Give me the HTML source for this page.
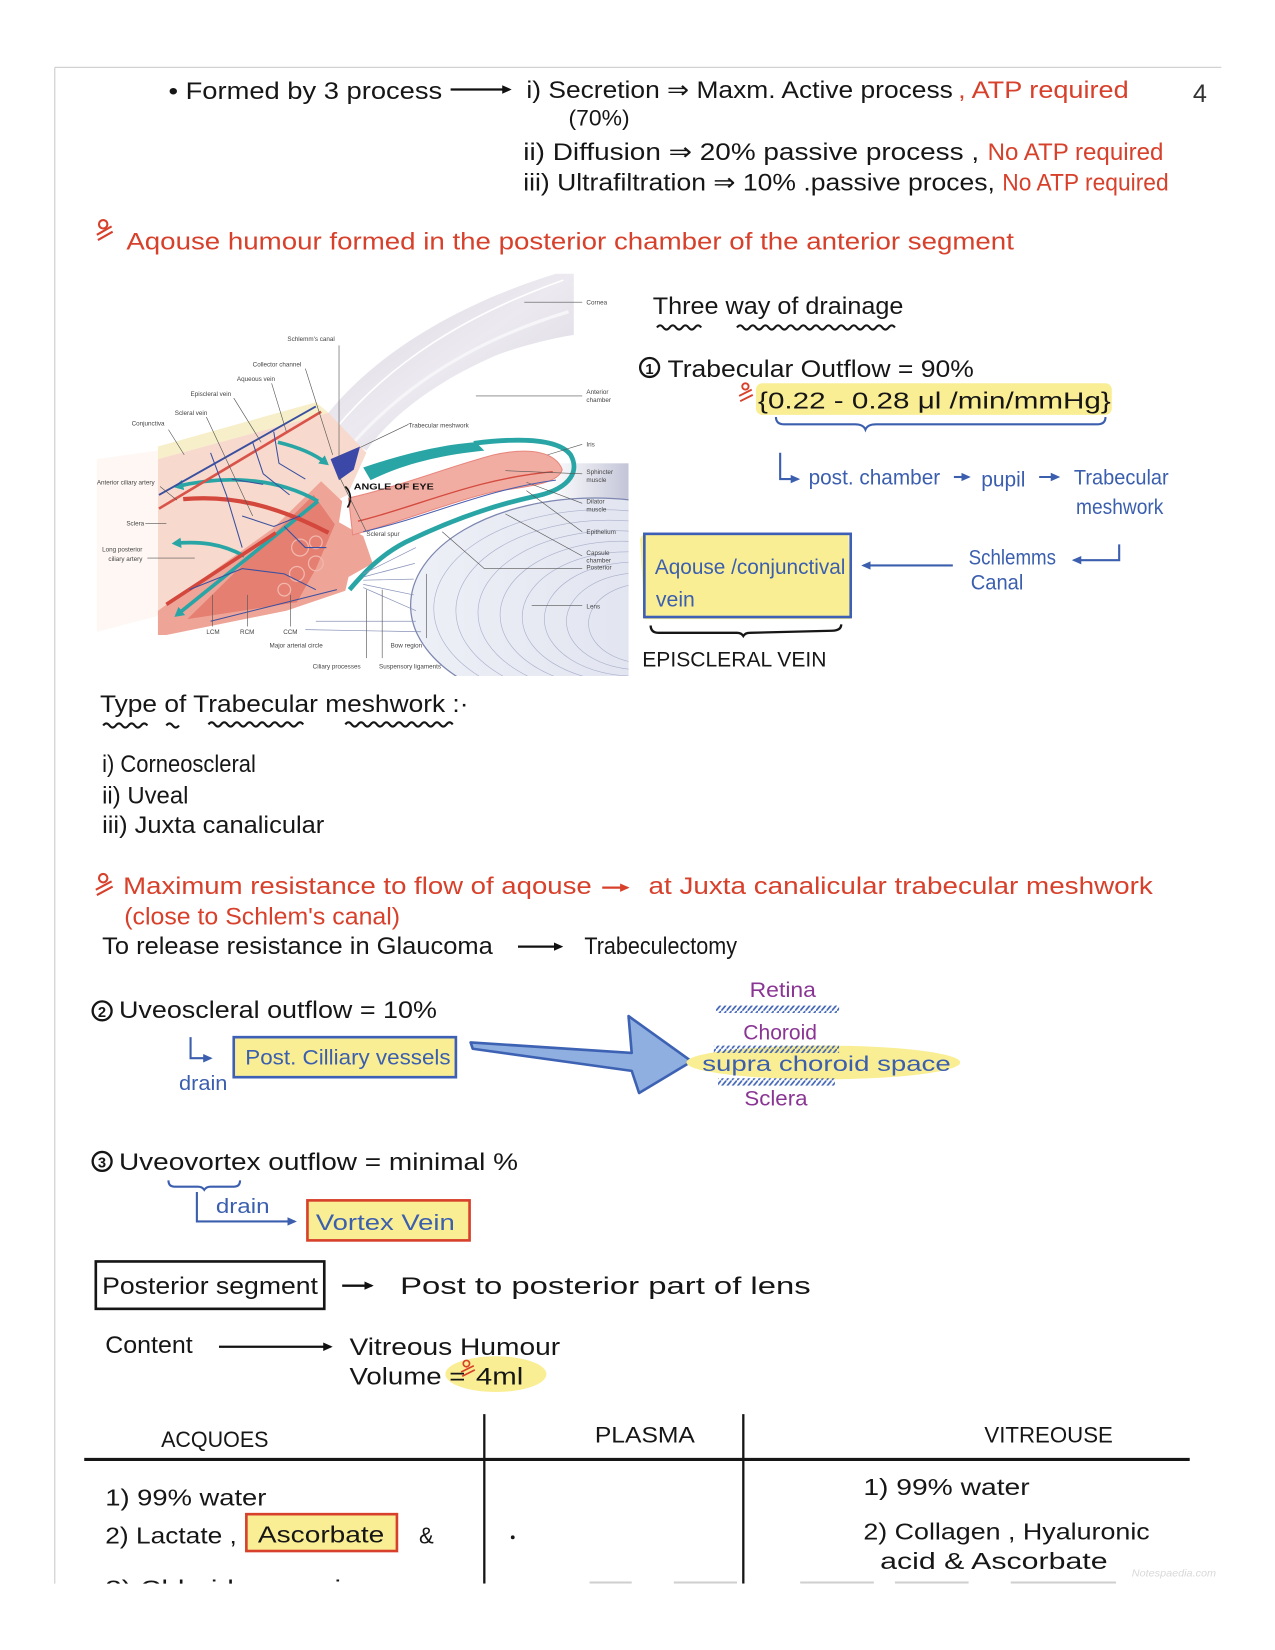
<!DOCTYPE html>
<html><head><meta charset="utf-8">
<style>
html,body{margin:0;padding:0;background:#fff;}
svg{display:block;}
text{font-family:"Liberation Sans","DejaVu Sans",sans-serif;}
</style></head><body>
<svg width="1275" height="1650" viewBox="0 0 1211 1567" preserveAspectRatio="none" xmlns="http://www.w3.org/2000/svg">
<defs>
 <marker id="ab" markerWidth="10" markerHeight="10" refX="7" refY="5" orient="auto" markerUnits="userSpaceOnUse"><path d="M0,1 L9,5 L0,9 Z" fill="#111"/></marker>
 <marker id="abl" markerWidth="10" markerHeight="10" refX="7" refY="5" orient="auto" markerUnits="userSpaceOnUse"><path d="M0,1 L9,5 L0,9 Z" fill="#3b5fae"/></marker>
 <marker id="ar" markerWidth="10" markerHeight="10" refX="7" refY="5" orient="auto" markerUnits="userSpaceOnUse"><path d="M0,1 L9,5 L0,9 Z" fill="#d7402b"/></marker>
 <marker id="at" markerWidth="10" markerHeight="10" refX="6" refY="5" orient="auto" markerUnits="userSpaceOnUse"><path d="M0,0 L9,5 L0,10 Z" fill="#2aa5a5"/></marker>
 <pattern id="hatch" width="5" height="6" patternUnits="userSpaceOnUse"><line x1="0" y1="6" x2="5" y2="0" stroke="#3f63b5" stroke-width="1.6"/></pattern>
 <linearGradient id="lensG" x1="0" y1="0" x2="1" y2="0"><stop offset="0" stop-color="#eef0f7"/><stop offset="0.6" stop-color="#e2e5f0"/><stop offset="1" stop-color="#c3c7dc"/></linearGradient>
 <linearGradient id="cornG" x1="0" y1="0" x2="1" y2="1"><stop offset="0" stop-color="#d9d5df"/><stop offset="0.5" stop-color="#ece9f0"/><stop offset="1" stop-color="#d6d3de"/></linearGradient>
 <linearGradient id="fadeR" x1="0" y1="0" x2="1" y2="0"><stop offset="0" stop-color="#c8cadb" stop-opacity="0"/><stop offset="1" stop-color="#c3c5d8" stop-opacity="1"/></linearGradient>
 <clipPath id="diagClip"><rect x="88" y="258" width="509" height="384"/></clipPath>
 <clipPath id="pageClip"><rect x="0" y="0" width="1211" height="1504"/></clipPath>
</defs>

<!-- page border -->
<line x1="52" y1="64" x2="1160" y2="64" stroke="#d2d2d2" stroke-width="1.2"/>
<line x1="52" y1="64" x2="52" y2="1504" stroke="#d2d2d2" stroke-width="1.2"/>

<!-- ===== Top lines ===== -->
<g font-size="23" fill="#161616">
 <text x="160" y="94" textLength="260" lengthAdjust="spacingAndGlyphs">• Formed by 3 process</text>
 <text x="500" y="93" textLength="405" lengthAdjust="spacingAndGlyphs">i) Secretion ⇒ Maxm. Active process</text>
 <text x="540" y="119" textLength="58" lengthAdjust="spacingAndGlyphs" font-size="21">(70%)</text>
 <text x="497" y="152" textLength="433" lengthAdjust="spacingAndGlyphs">ii) Diffusion ⇒ 20% passive process ,</text>
 <text x="497" y="181" textLength="448" lengthAdjust="spacingAndGlyphs">iii) Ultrafiltration ⇒ 10% .passive proces,</text>
</g>
<line x1="428" y1="85" x2="484" y2="85" stroke="#111" stroke-width="2.2" marker-end="url(#ab)"/>
<g font-size="23" fill="#d7402b">
 <text x="910" y="93" textLength="162" lengthAdjust="spacingAndGlyphs">, ATP required</text>
 <text x="938" y="152" textLength="167" lengthAdjust="spacingAndGlyphs">No ATP required</text>
 <text x="952" y="181" textLength="158" lengthAdjust="spacingAndGlyphs">No ATP required</text>
</g>
<text x="1133" y="97" font-size="24" fill="#333">4</text>

<!-- red heading -->
<g stroke="#d7402b" stroke-width="2" fill="none"><circle cx="98" cy="213" r="4"/><path d="M92,223 L106,215 M93,228 L107,220"/></g>
<text x="120" y="237" font-size="23" fill="#d7402b" textLength="843" lengthAdjust="spacingAndGlyphs">Aqouse humour formed in the posterior chamber of the anterior segment</text>

<!-- ===== Diagram ===== -->
<g clip-path="url(#diagClip)">
 <rect x="88" y="258" width="509" height="384" fill="#fff"/>
 <!-- lens -->
 <rect x="520" y="440" width="77" height="202" fill="url(#fadeR)"/>
 <ellipse cx="565" cy="575" rx="175" ry="102" fill="url(#lensG)" stroke="#7d87b0" stroke-width="1.2"/>
 <g fill="none" stroke="#aab0cc" stroke-width="0.6">
  <ellipse cx="572" cy="578" rx="160" ry="94"/><ellipse cx="578" cy="580" rx="145" ry="86"/>
  <ellipse cx="584" cy="582" rx="130" ry="78"/><ellipse cx="590" cy="584" rx="115" ry="70"/>
  <ellipse cx="596" cy="586" rx="100" ry="62"/><ellipse cx="602" cy="588" rx="85" ry="54"/>
  <ellipse cx="608" cy="590" rx="70" ry="46"/><ellipse cx="614" cy="592" rx="55" ry="38"/>
 </g>
 <!-- cornea -->
 <path d="M305,401 C350,340 430,290 528,260 L545,260 L545,318 C520,322 490,330 470,338 C420,360 375,390 348,428 Z" fill="url(#cornG)"/>
 <path d="M318,408 C370,345 440,300 535,266" fill="none" stroke="#fff" stroke-width="1.5"/>
 <path d="M336,420 C390,360 460,320 540,296" fill="none" stroke="#f6f5f8" stroke-width="3"/>
 <!-- conjunctiva strip -->
 <path d="M150,424 L300,382 L312,392 L150,436 Z" fill="#f6efc9"/>
 <!-- sclera peach -->
 <path d="M150,436 L312,392 L348,430 L330,470 L262,505 L150,580 Z" fill="#f7dacd"/>
 <path d="M92,436 L150,428 L150,585 L92,600 Z" fill="#fdf4f0" opacity="0.7"/>
 <!-- ciliary body -->
 <path d="M150,580 L259,502 L305,457 L325,476 L322,496 L345,509 L354,535 L331,548 L328,561 L272,580 L158,603 L150,603 Z" fill="#eea598"/>
 <path d="M178,588 L298,470 L318,498 L300,540 L282,572 Z" fill="#e2786a" opacity="0.85"/>
 <g fill="none" stroke="#f3b7ad" stroke-width="1.2"><circle cx="285" cy="520" r="8"/><circle cx="300" cy="535" r="7"/><circle cx="282" cy="545" r="7"/><circle cx="300" cy="515" r="6"/><circle cx="270" cy="560" r="6"/></g>
 <!-- iris -->
 <path d="M331,473 C380,462 430,442 469,432 C505,424 528,430 534,446 C530,460 500,462 469,467 C430,476 380,496 335,508 Z" fill="#f2ada3" stroke="#e8877d" stroke-width="1"/>
 <path d="M340,495 C400,480 450,455 525,448" fill="none" stroke="#d44b3f" stroke-width="1.3"/>
 <path d="M345,505 C410,490 460,465 528,456" fill="none" stroke="#4a5fb0" stroke-width="1"/>
 <!-- teal loop -->
 <path d="M345,444 C380,432 420,422 452,420 L460,428 C420,432 385,440 352,456 Z" fill="#2aa5a5"/>
 <path d="M450,421 C490,416 530,416 542,432 C552,450 538,466 505,472 C460,482 420,498 385,515 C360,528 345,545 332,560" fill="none" stroke="#2aa5a5" stroke-width="4.5"/>
 <!-- teal arrows -->
 <path d="M302,476 L168,584" fill="none" stroke="#2aa5a5" stroke-width="3.5" marker-end="url(#at)"/>
 <path d="M302,476 C260,452 210,452 168,462" fill="none" stroke="#2aa5a5" stroke-width="3.5" marker-end="url(#at)"/>
 <path d="M232,528 C210,516 190,514 166,516" fill="none" stroke="#2aa5a5" stroke-width="3.5" marker-end="url(#at)"/>
 <path d="M264,420 C285,425 300,432 310,440" fill="none" stroke="#2aa5a5" stroke-width="3.5" marker-end="url(#at)"/>
 <!-- trabecular meshwork -->
 <path d="M314,436 L342,424 L336,446 L322,456 Z" fill="#3b48a8"/>
 <!-- red vessels -->
 <path d="M151,483 L305,391" fill="none" stroke="#d9534a" stroke-width="2.5"/>
 <path d="M151,470 L300,386" fill="none" stroke="#3a4fa0" stroke-width="1.8"/>
 <path d="M174,474 C220,470 262,480 312,506" fill="none" stroke="#d4473d" stroke-width="4"/>
 <path d="M158,574 L262,506" fill="none" stroke="#d4473d" stroke-width="3.5"/>
 <g fill="none" stroke="#3a4fa0" stroke-width="1">
  <path d="M200,430 L215,470 L230,520 M240,420 L250,450 L275,470 M260,410 L265,440 L290,455 M220,455 L250,460 M230,490 L260,500 L285,490 M180,560 L230,540 L270,545 L300,560 M200,590 L260,575 L320,560 M270,500 L290,520 L310,520"/>
 </g>
 <!-- zonules -->
 <g fill="none" stroke="#8892b8" stroke-width="0.7">
  <path d="M345,545 L395,520 M345,548 L394,535 M345,551 L393,550 M345,555 L393,565 M345,558 L395,580 M300,590 L395,590 M290,598 L400,600"/>
 </g>
 <!-- angle of eye -->
 <text x="336" y="465" font-size="7.5" font-weight="bold" fill="#111" textLength="76" lengthAdjust="spacingAndGlyphs">ANGLE OF EYE</text>
 <path d="M328,462 C334,468 334,476 330,482" fill="none" stroke="#111" stroke-width="1.6"/>
 <!-- leaders -->
 <g stroke="#555" stroke-width="0.6" fill="none">
  <path d="M498,287 L553,287 M452,376 L553,376 M520,432 L553,422 M480,447 L553,450 M500,458 L553,478 M500,466 L553,505 M480,488 L553,528 M420,505 L460,540 L553,540 M505,575 L553,575"/>
  <path d="M322,328 L322,437 M290,350 L316,432 M258,364 L272,410 M222,378 L248,420 M196,396 L240,490 M160,408 L175,432 M152,462 L168,475 M138,497 L158,497 M140,530 L185,530 M202,595 L202,565 M235,595 L235,565 M276,595 L276,565 M342,425 L388,403 M322,452 L348,505 M405,545 L405,606 M348,560 L348,625 M363,560 L363,625"/>
 </g>
 <g font-size="6" fill="#444">
  <text x="557" y="289">Cornea</text>
  <text x="557" y="374">Anterior</text><text x="557" y="382">chamber</text>
  <text x="557" y="424">Iris</text>
  <text x="557" y="450">Sphincter</text><text x="557" y="458">muscle</text>
  <text x="557" y="478">Dilator</text><text x="557" y="486">muscle</text>
  <text x="557" y="507">Epithelium</text>
  <text x="557" y="527">Capsule</text><text x="557" y="534">chamber</text><text x="557" y="541">Posterior</text>
  <text x="557" y="578">Lens</text>
  <text x="273" y="324">Schlemm's canal</text>
  <text x="240" y="348">Collector channel</text>
  <text x="225" y="362">Aqueous vein</text>
  <text x="181" y="376">Episcleral vein</text>
  <text x="166" y="394">Scleral vein</text>
  <text x="125" y="404">Conjunctiva</text>
  <text x="92" y="460">Anterior ciliary artery</text>
  <text x="120" y="499">Sclera</text>
  <text x="97" y="524">Long posterior</text><text x="103" y="533">ciliary artery</text>
  <text x="196" y="602">LCM</text><text x="228" y="602">RCM</text><text x="269" y="602">CCM</text>
  <text x="256" y="615">Major arterial circle</text>
  <text x="371" y="615">Bow region</text>
  <text x="388" y="406">Trabecular meshwork</text>
  <text x="348" y="509">Scleral spur</text>
  <text x="297" y="635">Ciliary processes</text>
  <text x="360" y="635">Suspensory ligaments</text>
 </g>
</g>

<!-- ===== Right: three way of drainage ===== -->
<text x="620" y="298" font-size="23" fill="#161616" textLength="238" lengthAdjust="spacingAndGlyphs">Three way of drainage</text>
<g fill="none" stroke="#161616" stroke-width="2">
 <path d="M624,311 q3,-4 6,0 t6,0 t6,0 t6,0 t6,0 t6,0 t6,0"/>
 <path d="M700,311 q3,-4 6,0 t6,0 t6,0 t6,0 t6,0 t6,0 t6,0 t6,0 t6,0 t6,0 t6,0 t6,0 t6,0 t6,0 t6,0 t6,0 t6,0 t6,0 t6,0 t6,0 t6,0 t6,0 t6,0 t6,0 t6,0"/>
</g>
<circle cx="617" cy="349" r="9" fill="none" stroke="#161616" stroke-width="2.2"/>
<text x="613" y="355" font-size="14" font-weight="bold" fill="#161616">1</text>
<text x="634" y="358" font-size="23" fill="#161616" textLength="291" lengthAdjust="spacingAndGlyphs">Trabecular Outflow = 90%</text>
<rect x="718" y="364" width="338" height="30" rx="6" fill="#faee95"/>
<g stroke="#d7402b" stroke-width="1.8" fill="none"><circle cx="708" cy="367" r="3"/><path d="M702,376 L714,370 M703,381 L715,375"/></g>
<text x="720" y="388" font-size="22" fill="#161616" textLength="335" lengthAdjust="spacingAndGlyphs">{0.22 - 0.28 μl /min/mmHg}</text>
<path d="M737,396 q0,7 8,7 L812,403 q8,0 10,5 q2,-5 10,-5 L1042,403 q8,0 8,-7" fill="none" stroke="#3b5fae" stroke-width="2"/>
<path d="M741,430 L741,455 L758,455" fill="none" stroke="#3b5fae" stroke-width="2" marker-end="url(#abl)"/>
<g font-size="20" fill="#3b5fae">
 <text x="768" y="460" textLength="125" lengthAdjust="spacingAndGlyphs">post. chamber</text>
 <text x="932" y="462" textLength="42" lengthAdjust="spacingAndGlyphs">pupil</text>
 <text x="1020" y="460" textLength="90" lengthAdjust="spacingAndGlyphs">Trabecular</text>
 <text x="1022" y="488" textLength="83" lengthAdjust="spacingAndGlyphs">meshwork</text>
 <text x="920" y="536" textLength="83" lengthAdjust="spacingAndGlyphs">Schlemms</text>
 <text x="922" y="560" textLength="50" lengthAdjust="spacingAndGlyphs">Canal</text>
</g>
<line x1="906" y1="453" x2="920" y2="453" stroke="#3b5fae" stroke-width="2" marker-end="url(#abl)"/>
<line x1="987" y1="453" x2="1005" y2="453" stroke="#3b5fae" stroke-width="2" marker-end="url(#abl)"/>
<path d="M1063,517 L1063,532 L1020,532" fill="none" stroke="#3b5fae" stroke-width="2" marker-end="url(#abl)"/>
<line x1="905" y1="537" x2="820" y2="537" stroke="#3b5fae" stroke-width="2" marker-end="url(#abl)"/>
<path d="M608,512 q2,-6 10,-6 L806,506 L808,588 L612,588 Z" fill="#faee95"/>
<rect x="612" y="507" width="196" height="79" fill="none" stroke="#3d5fb5" stroke-width="2.5"/>
<g font-size="20" fill="#3b5fae">
 <text x="622" y="545" textLength="181" lengthAdjust="spacingAndGlyphs">Aqouse /conjunctival</text>
 <text x="623" y="576" textLength="37" lengthAdjust="spacingAndGlyphs">vein</text>
</g>
<path d="M618,594 q0,7 8,7 L700,601 q4,0 6,3 q2,-3 6,-3 L790,599 q9,0 9,-6" fill="none" stroke="#161616" stroke-width="2.2"/>
<text x="610" y="633" font-size="20" fill="#161616" textLength="175" lengthAdjust="spacingAndGlyphs">EPISCLERAL VEIN</text>

<!-- ===== Types of trabecular meshwork ===== -->
<g font-size="23" fill="#161616">
 <text x="95" y="676" textLength="350" lengthAdjust="spacingAndGlyphs">Type of Trabecular meshwork :·</text>
 <text x="97" y="733" textLength="146" lengthAdjust="spacingAndGlyphs">i) Corneoscleral</text>
 <text x="97" y="763" textLength="82" lengthAdjust="spacingAndGlyphs">ii) Uveal</text>
 <text x="97" y="791" textLength="211" lengthAdjust="spacingAndGlyphs">iii) Juxta canalicular</text>
</g>
<g fill="none" stroke="#161616" stroke-width="2">
 <path d="M98,689 q3,-4 6,0 t6,0 t6,0 t6,0 t6,0 t6,0 t6,0"/>
 <path d="M158,689 q3,-4 6,0 t6,0"/>
 <path d="M198,688 q3,-4 6,0 t6,0 t6,0 t6,0 t6,0 t6,0 t6,0 t6,0 t6,0 t6,0 t6,0 t6,0 t6,0 t6,0 t6,0"/>
 <path d="M328,688 q3,-4 6,0 t6,0 t6,0 t6,0 t6,0 t6,0 t6,0 t6,0 t6,0 t6,0 t6,0 t6,0 t6,0 t6,0 t6,0 t6,0 t6,0"/>
</g>

<!-- red max resistance -->
<g stroke="#d7402b" stroke-width="2" fill="none"><circle cx="98" cy="834" r="4"/><path d="M91,845 L106,837 M92,850 L107,842"/></g>
<g font-size="23" fill="#d7402b">
 <text x="117" y="849" textLength="445" lengthAdjust="spacingAndGlyphs">Maximum resistance to flow of aqouse</text>
 <text x="616" y="849" textLength="479" lengthAdjust="spacingAndGlyphs">at Juxta canalicular trabecular meshwork</text>
 <text x="118" y="878" textLength="262" lengthAdjust="spacingAndGlyphs">(close to Schlem's canal)</text>
</g>
<line x1="572" y1="843" x2="596" y2="843" stroke="#d7402b" stroke-width="2.2" marker-end="url(#ar)"/>
<g font-size="23" fill="#161616">
 <text x="97" y="906" textLength="371" lengthAdjust="spacingAndGlyphs">To release resistance in Glaucoma</text>
 <text x="555" y="906" textLength="145" lengthAdjust="spacingAndGlyphs">Trabeculectomy</text>
</g>
<line x1="492" y1="899" x2="533" y2="899" stroke="#111" stroke-width="2.2" marker-end="url(#ab)"/>

<!-- ===== Uveoscleral ===== -->
<circle cx="97" cy="960" r="9" fill="none" stroke="#161616" stroke-width="2.2"/>
<text x="93" y="966" font-size="14" font-weight="bold" fill="#161616">2</text>
<text x="113" y="967" font-size="23" fill="#161616" textLength="302" lengthAdjust="spacingAndGlyphs">Uveoscleral outflow = 10%</text>
<path d="M181,985 L181,1005 L200,1005" fill="none" stroke="#3b5fae" stroke-width="2" marker-end="url(#abl)"/>
<text x="170" y="1035" font-size="19" fill="#3b5fae" textLength="46" lengthAdjust="spacingAndGlyphs">drain</text>
<rect x="222" y="985" width="211" height="38" fill="#faee95" stroke="#3d5fb5" stroke-width="2.5"/>
<text x="233" y="1011" font-size="20" fill="#3b5fae" textLength="195" lengthAdjust="spacingAndGlyphs">Post. Cilliary vessels</text>
<path d="M447,990 L600,1000 L597,965 L657,1008 L607,1038 L600,1017 L449,996 Z" fill="#8fafe0" stroke="#3d62b3" stroke-width="2.5" stroke-linejoin="round"/>
<ellipse cx="782" cy="1009" rx="130" ry="16" fill="#faee95"/>
<g font-size="20" fill="#8a3593">
 <text x="712" y="947" textLength="63" lengthAdjust="spacingAndGlyphs">Retina</text>
 <text x="706" y="987" textLength="70" lengthAdjust="spacingAndGlyphs">Choroid</text>
 <text x="707" y="1050" textLength="60" lengthAdjust="spacingAndGlyphs">Sclera</text>
</g>
<rect x="680" y="955" width="117" height="7" fill="url(#hatch)"/>
<rect x="678" y="993" width="119" height="7" fill="url(#hatch)"/>
<rect x="682" y="1024" width="111" height="7" fill="url(#hatch)"/>
<text x="667" y="1017" font-size="20" fill="#3b5fae" textLength="236" lengthAdjust="spacingAndGlyphs">supra choroid space</text>

<!-- ===== Uveovortex ===== -->
<circle cx="97" cy="1103" r="9" fill="none" stroke="#161616" stroke-width="2.2"/>
<text x="93" y="1109" font-size="14" font-weight="bold" fill="#161616">3</text>
<text x="113" y="1111" font-size="23" fill="#161616" textLength="379" lengthAdjust="spacingAndGlyphs">Uveovortex outflow = minimal %</text>
<path d="M160,1121 q0,6 6,6 L188,1127 q4,0 6,3 q2,-3 6,-3 L222,1127 q6,0 6,-6" fill="none" stroke="#3b5fae" stroke-width="2"/>
<path d="M187,1132 L187,1160 L280,1160" fill="none" stroke="#3b5fae" stroke-width="2" marker-end="url(#abl)"/>
<text x="205" y="1152" font-size="19" fill="#3b5fae" textLength="51" lengthAdjust="spacingAndGlyphs">drain</text>
<rect x="292" y="1140" width="154" height="38" fill="#faee95" stroke="#d7402b" stroke-width="2.5"/>
<text x="300" y="1168" font-size="21" fill="#3b5fae" textLength="132" lengthAdjust="spacingAndGlyphs">Vortex Vein</text>

<!-- ===== Posterior segment ===== -->
<rect x="91" y="1198" width="217" height="45" fill="none" stroke="#161616" stroke-width="2.5"/>
<g font-size="23" fill="#161616">
 <text x="97" y="1229" textLength="205" lengthAdjust="spacingAndGlyphs">Posterior segment</text>
 <text x="380" y="1229" textLength="390" lengthAdjust="spacingAndGlyphs">Post to posterior part of lens</text>
 <text x="100" y="1285" textLength="83" lengthAdjust="spacingAndGlyphs">Content</text>
 <text x="332" y="1287" textLength="200" lengthAdjust="spacingAndGlyphs">Vitreous Humour</text>
</g>
<line x1="325" y1="1221" x2="353" y2="1221" stroke="#111" stroke-width="2.2" marker-end="url(#ab)"/>
<line x1="208" y1="1279" x2="314" y2="1279" stroke="#111" stroke-width="2.2" marker-end="url(#ab)"/>
<ellipse cx="471" cy="1305" rx="48" ry="17" fill="#faee95"/>
<text x="332" y="1315" font-size="23" fill="#161616" textLength="110" lengthAdjust="spacingAndGlyphs">Volume =</text>
<g stroke="#d7402b" stroke-width="1.6" fill="none"><circle cx="443" cy="1295" r="3"/><path d="M438,1303 L450,1297 M439,1307 L451,1301"/></g>
<text x="452" y="1315" font-size="23" fill="#161616" textLength="45" lengthAdjust="spacingAndGlyphs">4ml</text>

<!-- ===== Table ===== -->
<g clip-path="url(#pageClip)">
 <line x1="460" y1="1343" x2="460" y2="1504" stroke="#161616" stroke-width="2.2"/>
 <line x1="706" y1="1343" x2="706" y2="1504" stroke="#161616" stroke-width="2.2"/>
 <line x1="80" y1="1386" x2="1130" y2="1386" stroke="#161616" stroke-width="3"/>
 <g font-size="21" fill="#161616">
  <text x="153" y="1374" textLength="102" lengthAdjust="spacingAndGlyphs">ACQUOES</text>
  <text x="565" y="1370" textLength="95" lengthAdjust="spacingAndGlyphs">PLASMA</text>
  <text x="935" y="1370" textLength="122" lengthAdjust="spacingAndGlyphs">VITREOUSE</text>
 </g>
 <g font-size="22" fill="#161616">
  <text x="100" y="1430" textLength="153" lengthAdjust="spacingAndGlyphs">1) 99% water</text>
  <text x="100" y="1466" textLength="125" lengthAdjust="spacingAndGlyphs">2) Lactate ,</text>
  <text x="398" y="1466" textLength="14" lengthAdjust="spacingAndGlyphs">&amp;</text>
  <text x="100" y="1516" textLength="340" lengthAdjust="spacingAndGlyphs">3) Chloride more in aqouse</text>
  <text x="820" y="1420" textLength="158" lengthAdjust="spacingAndGlyphs">1) 99% water</text>
  <text x="820" y="1462" textLength="272" lengthAdjust="spacingAndGlyphs">2) Collagen , Hyaluronic</text>
  <text x="836" y="1490" textLength="216" lengthAdjust="spacingAndGlyphs">acid &amp; Ascorbate</text>
 </g>
 <rect x="234" y="1438" width="143" height="35" fill="#faee95" stroke="#d7402b" stroke-width="2.5"/>
 <text x="245" y="1465" font-size="22" fill="#161616" textLength="120" lengthAdjust="spacingAndGlyphs">Ascorbate</text>
 <circle cx="487" cy="1460" r="1.8" fill="#161616"/>
 <text x="1075" y="1497" font-size="10" font-style="italic" fill="#d8d8d8" textLength="80" lengthAdjust="spacingAndGlyphs">Notespaedia.com</text>
 <g stroke="#cfcfcf" stroke-width="2"><path d="M560,1503 L600,1503 M640,1503 L700,1503 M760,1503 L830,1503 M850,1503 L920,1503 M960,1503 L1060,1503"/></g>
</g>
</svg>
</body></html>
